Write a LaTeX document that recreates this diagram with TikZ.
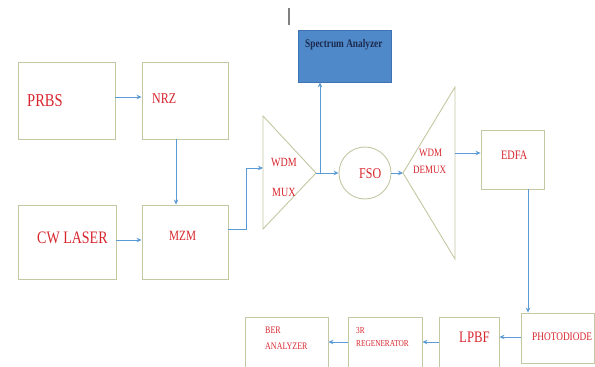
\documentclass[tikz,border=0pt]{standalone}
\usepackage{fontspec}
\setmainfont{Liberation Serif}
\usetikzlibrary{arrows.meta}
\definecolor{boxc}{HTML}{C4C8A2}
\definecolor{arrc}{HTML}{5B9BD5}
\definecolor{txtred}{HTML}{D8262E}
\definecolor{specfill}{HTML}{4F89C9}
\definecolor{specline}{HTML}{3F72B3}
\definecolor{navy}{HTML}{1B2A4E}
\newcommand{\tx}[2]{\fontsize{#1}{#1}\selectfont\scalebox{1}[1.25]{#2}}
\begin{document}
\begin{tikzpicture}[x=1pt,y=-1pt,
  box/.style={draw=boxc,line width=0.9pt,rectangle,inner sep=0pt},
  lbl/.style={text=txtred,inner sep=0pt,anchor=west},
  arr/.style={draw=arrc,line width=0.8pt,-{Stealth[length=5pt,width=4.5pt]}},
  ln/.style={draw=arrc,line width=0.8pt}]
\useasboundingbox[fill=white] (0,0) rectangle (595,367);
\clip (0,0) rectangle (595,367);
% boxes
\node[box,minimum width=97pt,minimum height=77pt] (prbs) at (66.5,100.5) {};
\node[box,minimum width=86pt,minimum height=77pt] (nrz) at (185,100.5) {};
\node[box,minimum width=98pt,minimum height=74pt] (cw) at (67,242) {};
\node[box,minimum width=86pt,minimum height=74pt] (mzm) at (185,242) {};
\node[draw=specline,fill=specfill,line width=0.8pt,minimum width=93pt,minimum height=52pt,inner sep=0pt] (spec) at (344.5,56) {};
\node[draw=boxc,line width=0.9pt,circle,minimum size=52pt,inner sep=0pt] (fso) at (365,173) {};
\node[box,minimum width=63pt,minimum height=59pt] (edfa) at (512.5,159.5) {};
\node[box,minimum width=73pt,minimum height=50pt] (pd) at (557.5,338) {};
\node[box,minimum width=60pt,minimum height=55pt] (lpbf) at (469,344.5) {};
\node[box,minimum width=74pt,minimum height=55pt] (sr) at (385,344.5) {};
\node[box,minimum width=83pt,minimum height=55pt] (ber) at (286.5,344.5) {};
% triangles
\coordinate (muxa) at (263,116);
\coordinate (muxb) at (263,229);
\coordinate (muxtip) at (316,173);
\draw[boxc,line width=0.9pt] (muxa) -- (muxtip) -- (muxb) -- cycle;
\coordinate (dmxa) at (455,87);
\coordinate (dmxb) at (455,259);
\coordinate (dmxtip) at (403,173);
\draw[boxc,line width=0.9pt] (dmxa) -- (dmxtip) -- (dmxb) -- cycle;
\coordinate (muxin) at (263,168);
\coordinate (bend1) at (246,229);
\coordinate (bend2) at (246,168);
\coordinate (split) at (320,173);
\coordinate (dmxout) at (455,153);
\coordinate (rowa) at (0,337);
\coordinate (rowb) at (0,342);
% gray mark
\coordinate (marka) at (289,8);
\coordinate (markb) at (289,25);
\draw[gray,line width=1.6pt] (marka) -- (markb);
% labels
\node[lbl] (tprbs) at (27,101) {\tx{14.5}{PRBS}};
\node[lbl] (tnrz) at (152,99) {\tx{12}{NRZ}};
\node[lbl] (tcw) at (37,238) {\tx{14}{CW LASER}};
\node[lbl] (tmzm) at (169,236) {\tx{11.3}{MZM}};
\node[lbl] (tmux1) at (271,162) {\tx{10}{WDM}};
\node[lbl] (tmux2) at (272,192) {\tx{10}{MUX}};
\node[lbl] (tfso) at (359,174) {\tx{12}{FSO}};
\node[lbl] (tdmx1) at (419,153) {\tx{9}{WDM}};
\node[lbl] (tdmx2) at (413,170) {\tx{9}{DEMUX}};
\node[lbl] (tedfa) at (501,155) {\tx{10.3}{EDFA}};
\node[inner sep=0pt,anchor=west,text=navy] (tspec) at (305,45) {\tx{9.3}{\bfseries Spectrum Analyzer}};
\node[lbl] (tpd) at (532,337) {\tx{9.3}{PHOTODIODE}};
\node[lbl] (tlpbf) at (459,337) {\tx{12.8}{LPBF}};
\node[lbl] (tsr1) at (356,331) {\tx{7.3}{3R}};
\node[lbl] (tsr2) at (356,344) {\tx{7.3}{REGENERATOR}};
\node[lbl] (tber1) at (265,330) {\tx{8}{BER}};
\node[lbl] (tber2) at (265,346) {\tx{8}{ANALYZER}};
% connectors
\draw[arr] ([yshift=3.5pt]prbs.east) -- ([yshift=3.5pt]nrz.west);
\draw[arr] ([xshift=-9pt]nrz.south) -- ([xshift=-9pt]mzm.north);
\draw[arr] ([yshift=2pt]cw.east) -- ([yshift=2pt]mzm.west);
\draw[arr] (mzm.east |- bend1) -- (bend1) -- (bend2) -- (muxin);
\draw[ln] (muxtip) -- (split);
\draw[arr] (split) -- (spec.south -| split);
\draw[arr] (split) -- (fso.west);
\draw[arr] (fso.east) -- (dmxtip);
\draw[arr] (dmxout) -- (edfa.west |- dmxout);
\draw[arr] ([xshift=15.5pt]edfa.south) -- ([xshift=15.5pt]edfa.south |- pd.north);
\draw[arr] (pd.west |- rowa) -- (lpbf.east |- rowa);
\draw[arr] (lpbf.west |- rowb) -- (sr.east |- rowb);
\draw[arr] (sr.west |- rowb) -- (ber.east |- rowb);
\end{tikzpicture}
\end{document}
